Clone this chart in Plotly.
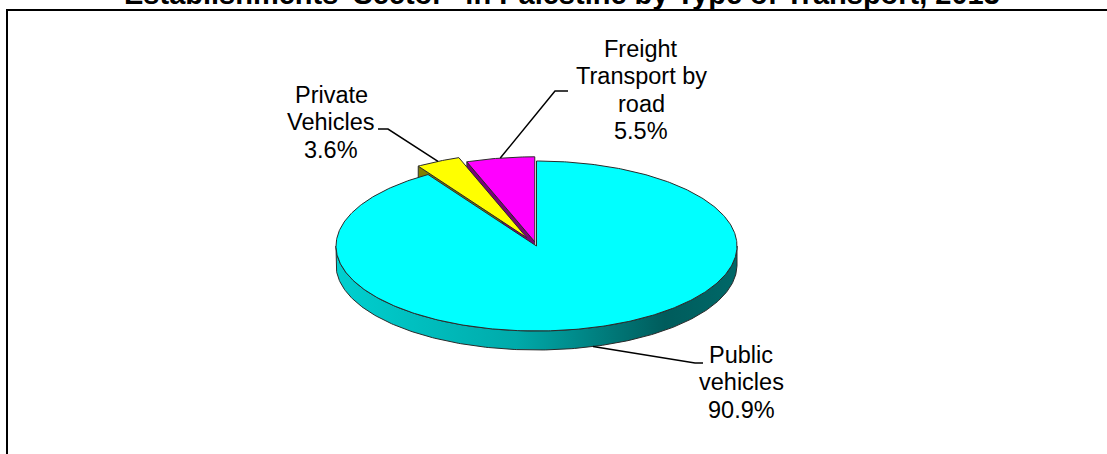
import numpy as np
import plotly.graph_objects as go

# ---------------- data ----------------
title_text = "Establishments' Sector\" in Palestine by Type of Transport, 2013"
categories = ["Public vehicles", "Private Vehicles", "Freight Transport by road"]
shares = [90.9, 3.6, 5.5]
label_names = [["Public", "vehicles"], ["Private", "Vehicles"], ["Freight", "Transport by", "road"]]

# ---------------- style / layout ----------------
W, H = 1107, 454
CX, CY, RA, RB, DEPTH = 536.5, 246.0, 200.5, 85.0, 19.0
top_colors = ["#00FFFF", "#FFFF00", "#FF00FF"]
wall_colors = [None, "#7F7F00", "#7A007A"]
explode = [0.0, 0.11, 0.05]
side_scale = [[0.0, "rgb(0,208,208)"], [0.45, "rgb(0,170,170)"],
              [0.82, "rgb(0,92,92)"], [1.0, "rgb(0,104,104)"]]
edge = dict(color="#2a2a2a", width=1)
FONT = "Liberation Sans, Arial, sans-serif"
FS = 23.5
LINE_GAP = 27.5
# label anchor: (center x, baseline of first line), leader elbow, leader end
label_pos = [(741, 363), (331, 103), (641, 57)]
leader_elbow = [(695, 363), (388, 129), (555, 91)]
leader_end = [(703, 363), (378, 129), (568, 91)]

total = sum(shares)
bounds = np.concatenate([[0], np.cumsum(shares)]) / total * 360.0


def pt(theta_deg, off=(0.0, 0.0), dz=0.0):
    t = np.radians(theta_deg)
    return CX + RA * np.sin(t) + off[0], CY - RB * np.cos(t) + off[1] + dz


def offset(i):
    tm = np.radians((bounds[i] + bounds[i + 1]) / 2)
    return (explode[i] * RA * np.sin(tm), -explode[i] * RB * np.cos(tm))


fig = go.Figure()


def add_poly(xs, ys, color=None, gradient=None, line=edge):
    kw = dict(x=list(xs), y=list(ys), mode="lines", fill="toself",
              line=line, hoverinfo="skip", showlegend=False)
    if gradient is not None:
        kw["fillgradient"] = gradient
    else:
        kw["fillcolor"] = color
    fig.add_trace(go.Scatter(**kw))


# 1. front side wall of the big slice (gradient)
th = np.linspace(90, 270, 240)
tx, ty = pt(th)
bx, by = pt(th[::-1], dz=DEPTH)
add_poly(np.concatenate([tx, bx, tx[:1]]), np.concatenate([ty, by, ty[:1]]),
         gradient=dict(type="horizontal", colorscale=side_scale))

# 2. radial walls of exploded slices (start edges face the viewer)
for i in (1, 2):
    off = offset(i)
    ax_, ay_ = CX + off[0], CY + off[1]
    ox, oy = pt(bounds[i], off)
    add_poly([ax_, ox, ox, ax_, ax_], [ay_, oy, oy + DEPTH, ay_ + DEPTH, ay_], color=wall_colors[i])

# 3. top faces
for i in range(len(shares)):
    off = offset(i)
    th = np.linspace(bounds[i], bounds[i + 1], max(6, int((bounds[i + 1] - bounds[i]) * 1.5)))
    ax_, ay_ = CX + off[0], CY + off[1]
    px, py = pt(th, off)
    add_poly(np.concatenate([[ax_], px, [ax_]]), np.concatenate([[ay_], py, [ay_]]),
             color=top_colors[i])

# 4. leader lines
for i in range(len(shares)):
    tm = (bounds[i] + bounds[i + 1]) / 2
    front = np.cos(np.radians(tm)) < 0
    sx, sy = pt(tm, offset(i), DEPTH if front else 0.0)
    ex, ey = leader_elbow[i]
    fx, fy = leader_end[i]
    fig.add_trace(go.Scatter(x=[sx, ex, fx], y=[sy, ey, fy], mode="lines",
                             line=dict(color="black", width=1.5),
                             hoverinfo="skip", showlegend=False))

# 5. labels (one annotation per line)
annotations = []
for i in range(len(shares)):
    lines = label_names[i] + [f"{shares[i]:.1f}%"]
    lx, base = label_pos[i]
    for k, txt in enumerate(lines):
        yb = base + k * LINE_GAP
        annotations.append(dict(x=lx / W, y=1 - (yb - 8.1) / H, xref="paper", yref="paper",
                                text=txt, showarrow=False, xanchor="center", yanchor="middle",
                                font=dict(family=FONT, size=FS, color="black")))

annotations.append(dict(x=562 / W, y=1 + 6 / H, xref="paper", yref="paper",
                        text="<b>" + title_text + "</b>",
                        showarrow=False, xanchor="center", yanchor="middle",
                        font=dict(family=FONT, size=29, color="black")))

fig.update_layout(
    width=W, height=H,
    margin=dict(l=0, r=0, t=0, b=0),
    paper_bgcolor="white", plot_bgcolor="white",
    xaxis=dict(range=[0, W], visible=False, fixedrange=True),
    yaxis=dict(range=[H, 0], visible=False, fixedrange=True),
    annotations=annotations,
    shapes=[dict(type="rect", xref="paper", yref="paper",
                 x0=7 / W, x1=1.02, y0=1 - 10 / H, y1=-0.05,
                 line=dict(color="black", width=2), fillcolor="rgba(0,0,0,0)")],
)

fig.write_html("out.html", config={"displayModeBar": False},
               post_script="document.body.style.margin='0';document.body.style.overflow='hidden';")
